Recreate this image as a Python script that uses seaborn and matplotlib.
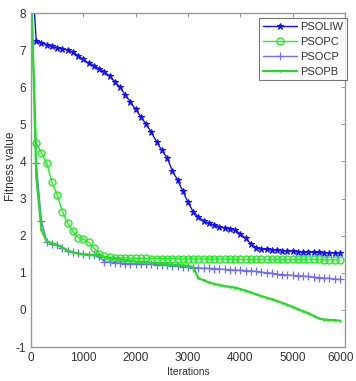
import numpy as np
import pandas as pd
import matplotlib
matplotlib.use("Agg")
import matplotlib.pyplot as plt
import matplotlib.transforms as mtransforms
import seaborn as sns

iterations = list(range(0, 6000, 100))

psoliw = [9.5, 7.25, 7.2, 7.15, 7.1, 7.07, 7.04, 7.0, 6.95, 6.85,
          6.75, 6.65, 6.58, 6.5, 6.42, 6.3, 6.15, 6.0, 5.8, 5.6,
          5.4, 5.2, 5.0, 4.78, 4.53, 4.3, 4.1, 3.75, 3.5, 3.2,
          2.9, 2.64, 2.5, 2.4, 2.33, 2.28, 2.24, 2.2, 2.18, 2.15,
          2.05, 1.93, 1.78, 1.68, 1.64, 1.63, 1.62, 1.61, 1.6, 1.59,
          1.58, 1.57, 1.56, 1.56, 1.55, 1.55, 1.54, 1.54, 1.53, 1.53]

psopc = [8.3, 4.49, 4.23, 3.95, 3.45, 3.1, 2.65, 2.33, 2.12, 1.95,
         1.9, 1.83, 1.68, 1.5, 1.44, 1.42, 1.41, 1.4, 1.4, 1.39,
         1.39, 1.39, 1.39, 1.38, 1.38, 1.38, 1.38, 1.38, 1.38, 1.37,
         1.37, 1.37, 1.37, 1.37, 1.37, 1.37, 1.37, 1.37, 1.37, 1.36,
         1.36, 1.36, 1.36, 1.36, 1.36, 1.36, 1.36, 1.36, 1.36, 1.36,
         1.36, 1.36, 1.36, 1.36, 1.36, 1.36, 1.35, 1.35, 1.35, 1.35]

psocp = [9.0, 3.95, 2.4, 1.84, 1.78, 1.75, 1.68, 1.6, 1.55, 1.52,
         1.5, 1.49, 1.48, 1.45, 1.3, 1.28, 1.27, 1.26, 1.25, 1.25,
         1.24, 1.24, 1.23, 1.23, 1.22, 1.21, 1.2, 1.19, 1.18, 1.16,
         1.15, 1.14, 1.13, 1.12, 1.12, 1.11, 1.1, 1.09, 1.08, 1.07,
         1.07, 1.06, 1.05, 1.04, 1.02, 1.0, 0.99, 0.96, 0.95, 0.94,
         0.93, 0.92, 0.91, 0.9, 0.88, 0.87, 0.86, 0.85, 0.83, 0.82]

psopb = [9.0, 3.6, 2.15, 1.85, 1.8, 1.75, 1.68, 1.6, 1.55, 1.52,
         1.5, 1.49, 1.48, 1.47, 1.42, 1.4, 1.38, 1.36, 1.34, 1.32,
         1.3, 1.29, 1.28, 1.27, 1.26, 1.24, 1.23, 1.22, 1.21, 1.2,
         1.19, 1.15, 0.85, 0.8, 0.74, 0.7, 0.67, 0.64, 0.62, 0.6,
         0.56, 0.52, 0.47, 0.42, 0.37, 0.33, 0.29, 0.24, 0.19, 0.14,
         0.08, 0.02, -0.04, -0.09, -0.16, -0.23, -0.26, -0.27, -0.28, -0.29]

x_ticks = [0, 1000, 2000, 3000, 4000, 5000, 6000]
y_ticks = [-1, 0, 1, 2, 3, 4, 5, 6, 7, 8]

sns.set_style("white")
plt.rcParams['font.family'] = ['Liberation Sans', 'DejaVu Sans']

df = pd.DataFrame({"it": iterations, "PSOLIW": psoliw, "PSOPC": psopc,
                   "PSOCP": psocp, "PSOPB": psopb})

fig = plt.figure(figsize=(3.56, 3.81), dpi=100)
ax = fig.add_axes([31/356, 34/381, 314/356, 334/381])

sns.lineplot(data=df, x="it", y="PSOLIW", ax=ax, color="#1010ff", marker="*",
             markersize=5, markeredgecolor="#1010ff", markerfacecolor="#1010ff",
             linewidth=1.0, label="PSOLIW")
sns.lineplot(data=df, x="it", y="PSOPC", ax=ax, color="#22ee22", marker="o",
             markersize=5, markerfacecolor="none", markeredgecolor="#22ee22",
             markeredgewidth=1.0, linewidth=1.0, label="PSOPC")
sns.lineplot(data=df, x="it", y="PSOCP", ax=ax, color="#6f6ff5", marker="+",
             markersize=6, markeredgecolor="#6f6ff5", markeredgewidth=0.9,
             linewidth=1.0, label="PSOCP")
sns.lineplot(data=df, x="it", y="PSOPB", ax=ax, color="#22dd22", marker=".",
             markersize=2, markeredgecolor="#22dd22", markerfacecolor="#22dd22",
             linewidth=1.6, label="PSOPB")

ax.set_xlim(0, 6000)
ax.set_ylim(-1, 8)
ax.set_xticks(x_ticks)
ax.set_yticks(y_ticks)
ax.set_xticklabels([str(t) for t in x_ticks])
ax.set_yticklabels([str(t) for t in y_ticks])
ax.tick_params(direction="in", length=3, width=0.6, colors="#888888",
               labelcolor="#333333", labelsize=8.5, top=True, right=True)
# nudge the last x label so it stays inside the figure
last = ax.get_xticklabels()[-1]
last.set_transform(last.get_transform() +
                   mtransforms.ScaledTranslation(-4/100, 0, fig.dpi_scale_trans))
for s in ax.spines.values():
    s.set_color("#999999")
    s.set_linewidth(1.0)
ax.set_xlabel("Iterations", fontsize=7.5, color="#333333", labelpad=2)
ax.set_ylabel("Fitness value", fontsize=8.5, color="#333333")
ax.yaxis.set_label_coords(-0.045, 0.542)

leg = ax.legend(loc="upper right", bbox_to_anchor=(1.006, 0.986), fontsize=8,
                frameon=True, fancybox=False, borderpad=0.35, labelspacing=0.45,
                handlelength=3.0, handletextpad=0.3, borderaxespad=0.0)
leg.get_frame().set_edgecolor("#555555")
leg.get_frame().set_linewidth(0.8)
for t in leg.get_texts():
    t.set_color("#333333")

fig.savefig("out.png", dpi=100)
